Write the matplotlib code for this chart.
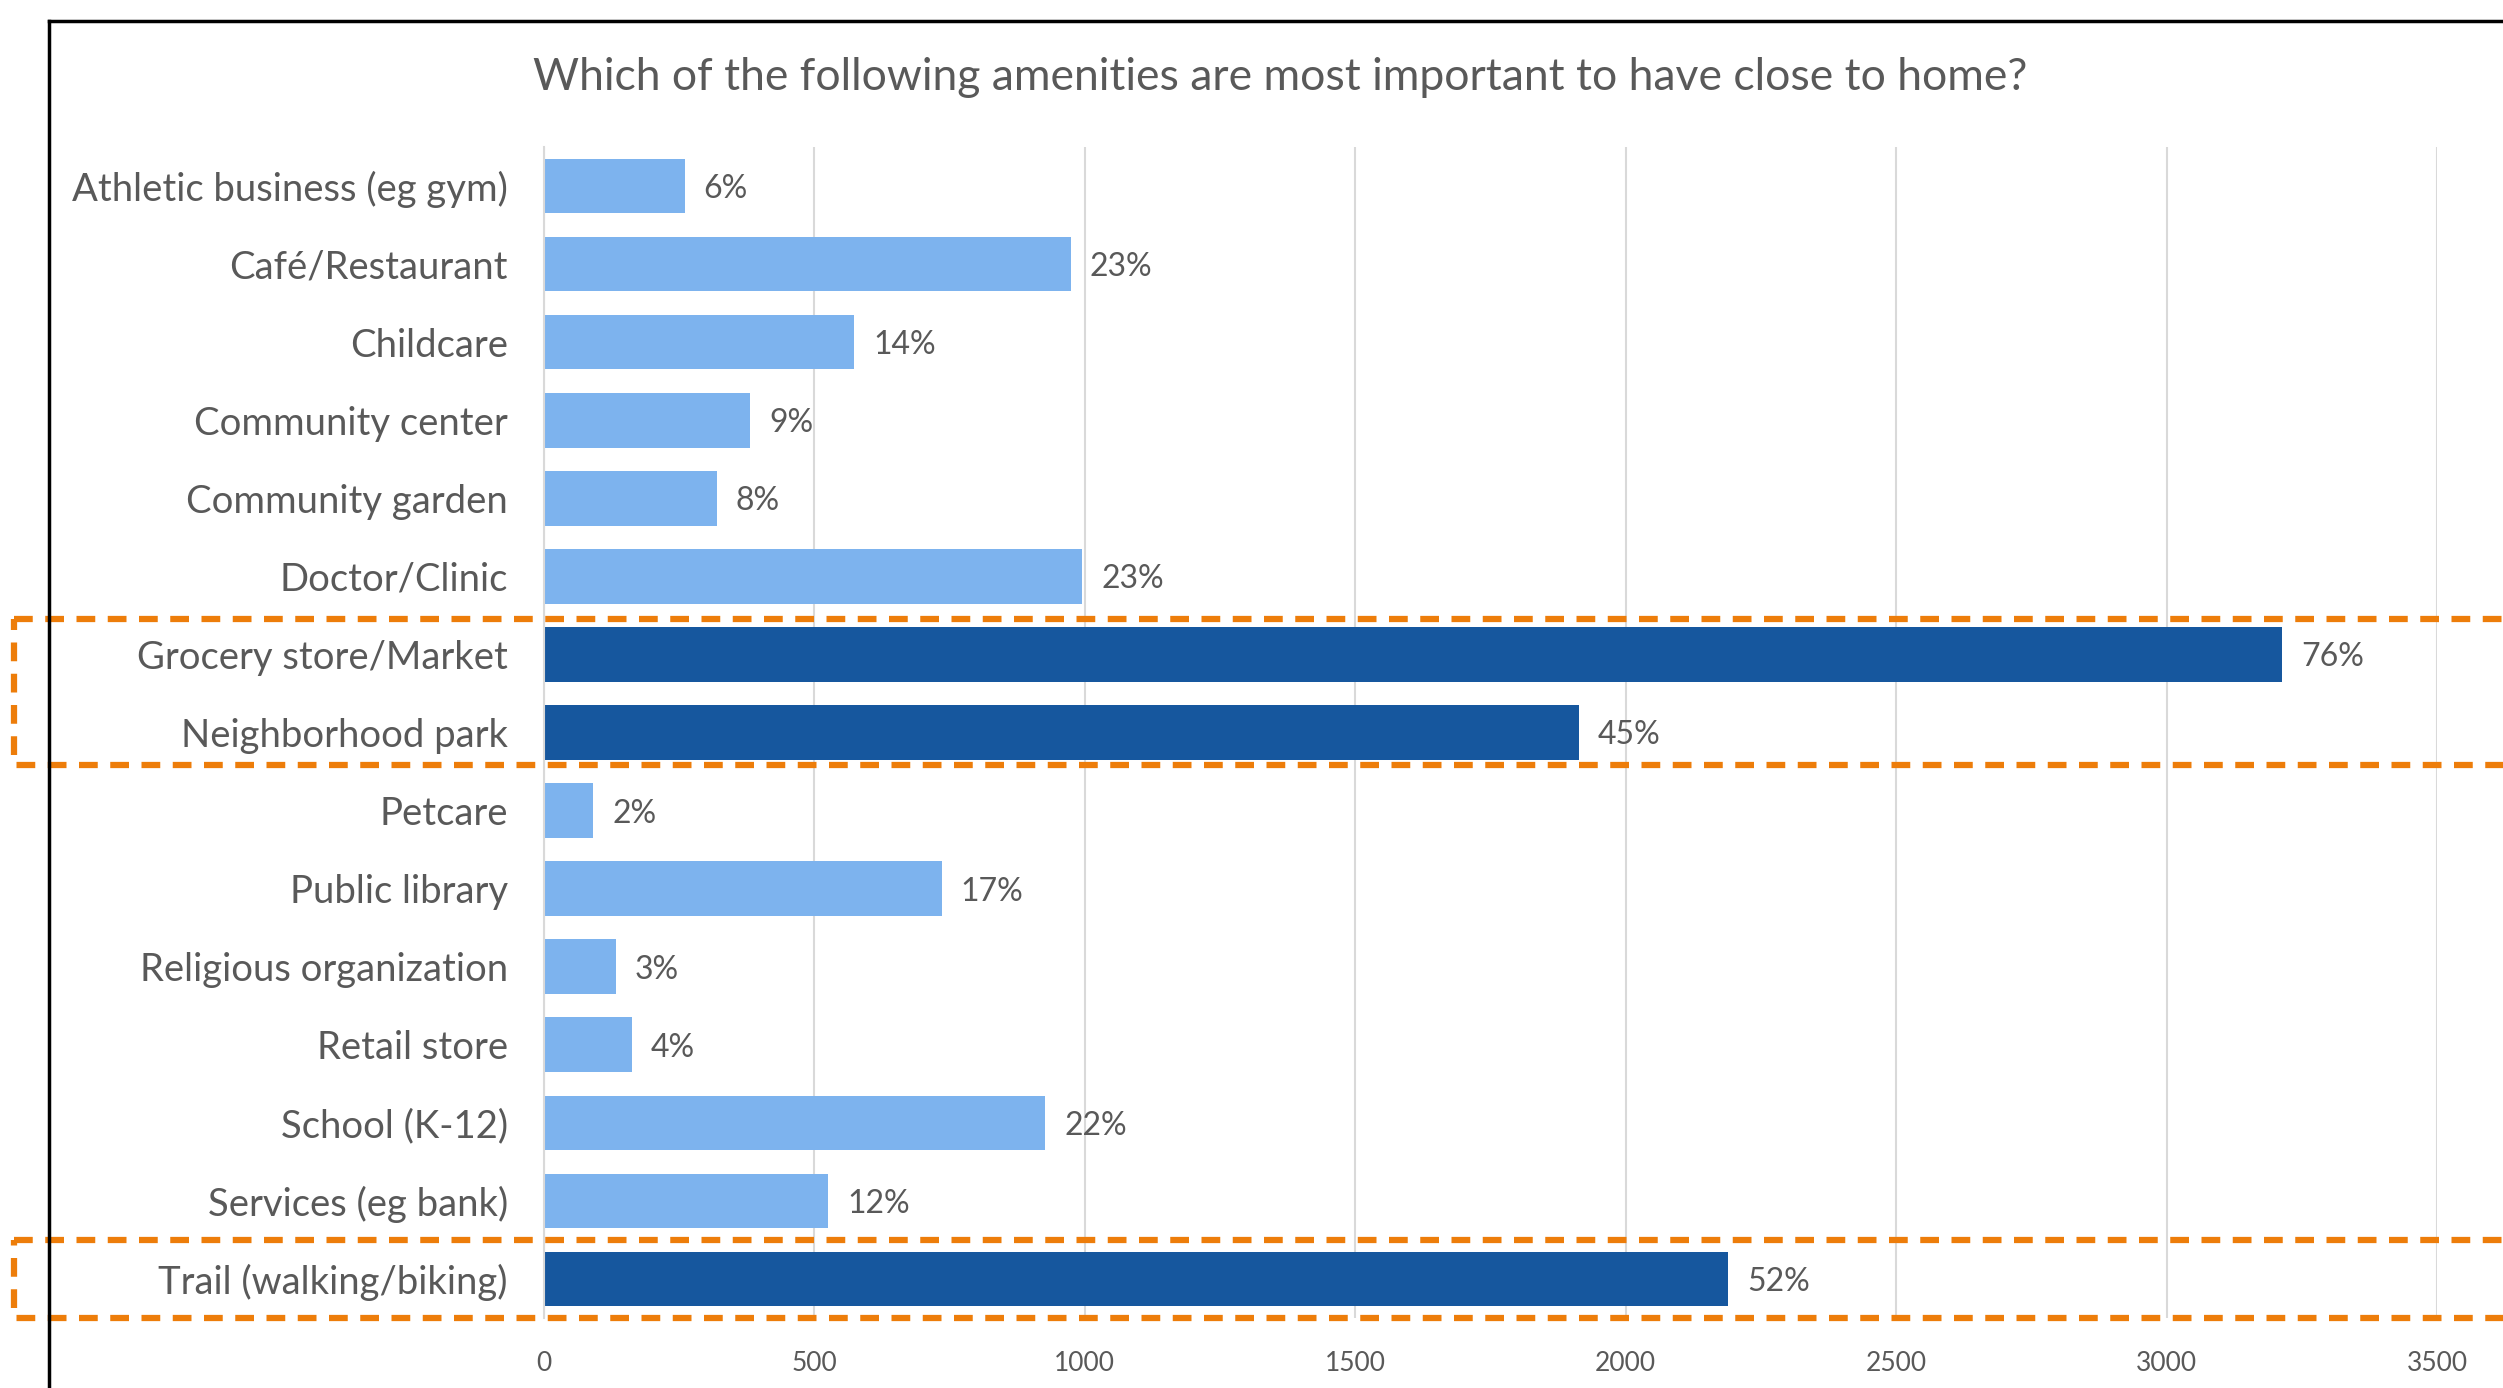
#importing libraries
import matplotlib.pyplot as plt
import matplotlib.transforms as mtransforms
from matplotlib.patches import Rectangle
from matplotlib.lines import Line2D

#chart data
categories = ["Athletic business (eg gym)", "Café/Restaurant", "Childcare",
              "Community center", "Community garden", "Doctor/Clinic",
              "Grocery store/Market", "Neighborhood park", "Petcare",
              "Public library", "Religious organization", "Retail store",
              "School (K-12)", "Services (eg bank)", "Trail (walking/biking)"]
counts = [260, 974, 573, 381, 319, 995, 3214, 1913, 91, 735, 133, 162, 927, 525, 2190]
percents = ["6%", "23%", "14%", "9%", "8%", "23%", "76%", "45%", "2%",
            "17%", "3%", "4%", "22%", "12%", "52%"]
highlighted = ["Grocery store/Market", "Neighborhood park", "Trail (walking/biking)"]
x_ticks = [0, 500, 1000, 1500, 2000, 2500, 3000, 3500]

title = "Which of the following amenities are most important to have close to home?"

plt.rcParams['font.family'] = ['Lato', 'DejaVu Sans']
light = "#7DB3EE"
dark = "#16579E"
text_col = "#595959"
orange = "#ED7D0A"

fig = plt.figure(figsize=(25.03, 13.88), dpi=100)
ax = fig.add_axes([544/2503, 1 - 1318/1388, (2437-544)/2503, (1318-147)/1388])

colors = [dark if c in highlighted else light for c in categories]
bars = ax.barh(categories, counts, height=0.7, color=colors)
ax.set_ylim(len(categories) - 0.5, -0.5)
ax.set_xlim(0, 3500)
ax.set_xticks(x_ticks)
ax.set_xticklabels([str(t) for t in x_ticks], fontsize=19, color=text_col)
ax.tick_params(axis='x', length=0, pad=24)
ax.tick_params(axis='y', length=0, pad=26, labelsize=27.5, labelcolor=text_col)
ax.grid(axis='x', color="#D9D9D9", linewidth=1.5)
ax.set_axisbelow(True)
for s in ["top", "right", "bottom"]:
    ax.spines[s].set_visible(False)
ax.spines["left"].set_color("#D9D9D9")
ax.spines["left"].set_linewidth(1.5)

#percentage labels
for bar, p in zip(bars, percents):
    ax.annotate(p, (bar.get_width(), bar.get_y() + bar.get_height() / 2),
                xytext=(19, -3), textcoords="offset pixels", va="center",
                fontsize=23, color=text_col)

fig.text(1280/2503, 1 - 77/1388, title, ha="center", va="center",
         fontsize=32, color=text_col)

#black frame
fig.add_artist(Line2D([49/2503, 1.01], [1 - 21/1388] * 2, color="black", linewidth=2.5))
fig.add_artist(Line2D([49/2503] * 2, [1 - 21/1388, -0.01], color="black", linewidth=2.5))

#orange dashed boxes around highlighted rows
trans = mtransforms.blended_transform_factory(fig.transFigure, ax.transData)
for start, end in [(5.55, 7.42), (13.5, 14.5)]:
    box = Rectangle((14/2503, start), 1.0, end - start, transform=trans,
                    fill=False, edgecolor=orange, linewidth=4.5,
                    linestyle=(0, (3, 2)), clip_on=False)
    ax.add_patch(box)

fig.savefig("out.png", dpi=100)
